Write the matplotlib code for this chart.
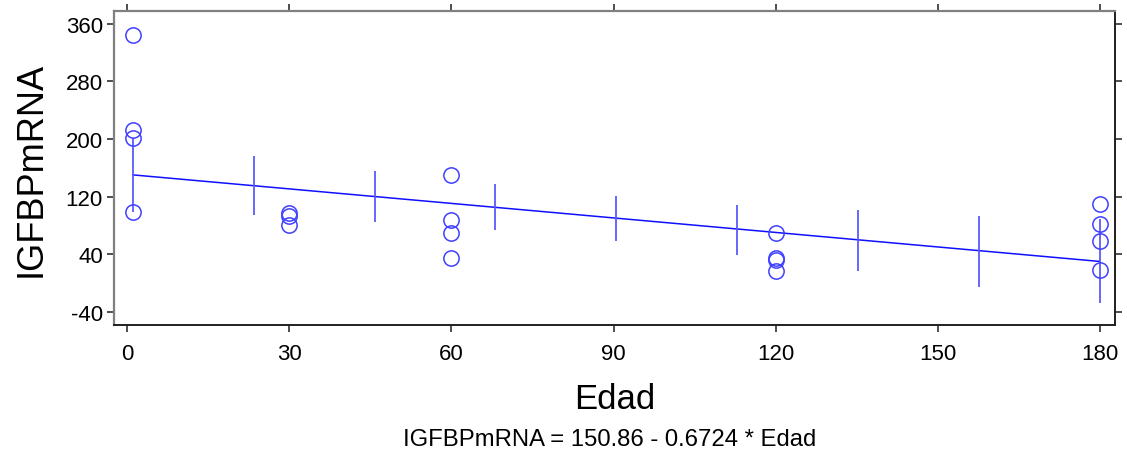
import matplotlib
matplotlib.use("Agg")
import matplotlib.pyplot as plt
import numpy as np

plt.rcParams["font.family"] = ["Liberation Sans", "DejaVu Sans"]
plt.rcParams["axes.unicode_minus"] = False

# observed points (Edad, IGFBPmRNA)
edad = [1, 1, 1, 1,
        30, 30, 30,
        60, 60, 60, 60,
        120, 120, 120, 120,
        180, 180, 180, 180]
igfbp = [344, 212, 201, 99,
         97, 93, 80,
         150, 88, 69, 34,
         69, 34, 32, 17,
         110, 82, 58, 18]

# fitted line and its confidence bars
intercept = 150.86
slope = -0.6724
ci_x = [1, 23.4, 45.8, 68.1, 90.5, 112.9, 135.3, 157.6, 180]
ci_low = [99, 94, 85, 73, 58, 39, 17, -5, -28]
ci_high = [201, 176, 155, 137, 121, 109, 102, 93, 89]

x_ticks = [0, 30, 60, 90, 120, 150, 180]
y_ticks = [-40, 40, 120, 200, 280, 360]

fig = plt.figure(figsize=(11.27, 4.56), dpi=100)
ax = fig.add_axes([0.1012, 0.2851, 0.8881, 0.6886])

line_x = np.array([ci_x[0], ci_x[-1]])
ax.plot(line_x, intercept + slope * line_x, color="#1010ff", linewidth=1.1, zorder=2)
ax.vlines(ci_x, ci_low, ci_high, color="#5a5aff", linewidth=1.3, zorder=2)
ax.plot(edad, igfbp, linestyle="none", marker="o", markersize=11,
        markerfacecolor="none", markeredgecolor="#4040ff", markeredgewidth=1.1, zorder=3)

ax.set_xlim(-2.46, 182.8)
ax.set_ylim(-58.5, 378)
ax.set_xticks(x_ticks)
ax.set_yticks(y_ticks)

ax.tick_params(axis="both", direction="out", length=5, width=1.2,
               labelsize=16, colors="#303030", labelcolor="black")
ax.tick_params(axis="x", top=True, pad=8)
ax.tick_params(axis="y", right=True, pad=3)

for side in ["top", "left"]:
    ax.spines[side].set_color("#808080")
    ax.spines[side].set_linewidth(1.6)
for side in ["bottom", "right"]:
    ax.spines[side].set_color("#202020")
    ax.spines[side].set_linewidth(1.4)

ax.set_xlabel("Edad", fontsize=25, labelpad=13)
ax.set_ylabel("IGFBPmRNA", fontsize=26, labelpad=12)

fig.text(0.5405, 1 - 440 / 456, "IGFBPmRNA = 150.86 - 0.6724 * Edad",
         fontsize=17.2, ha="center", va="center")

fig.savefig("out.png", dpi=100)
